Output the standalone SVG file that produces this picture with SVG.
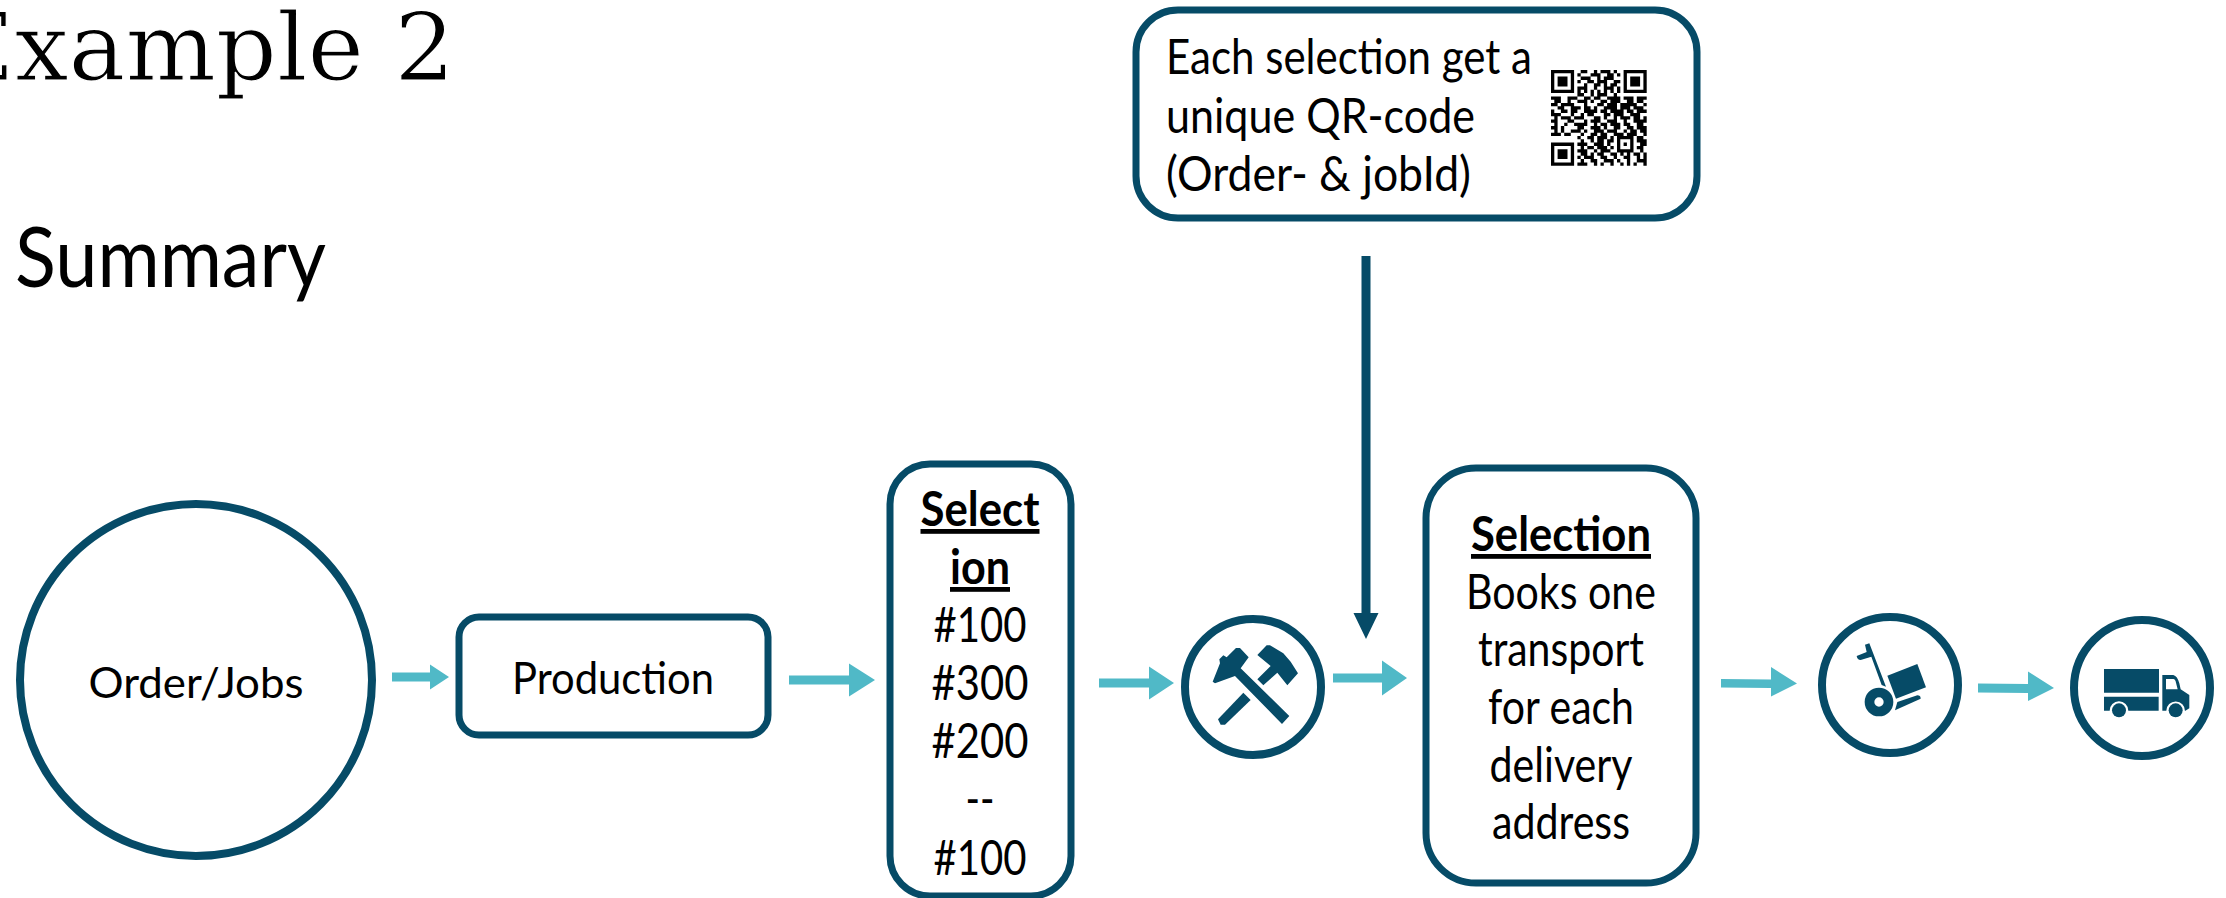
<svg xmlns="http://www.w3.org/2000/svg" width="2226" height="898" viewBox="0 0 2226 898">
<style>
text{font-family:"Lato","Open Sans","Liberation Sans",sans-serif;fill:#000;font-size:48px;font-weight:400}
.m{text-anchor:middle}
.b{font-weight:700;text-decoration:underline}
.n{fill:#fff;stroke:#064b67;stroke-width:7}
.c{fill:#fff;stroke:#064b67;stroke-width:8}
.i{fill:#064b67}
.a{fill:#50b9c7}
.d{fill:#064b67}
</style>
<rect width="2226" height="898" fill="#fff"/>
<text x="-55" y="80" style="font-family:'DejaVu Serif','Liberation Serif',serif;font-size:94px;stroke:#fff;stroke-width:1.200;paint-order:fill" textLength="510" lengthAdjust="spacingAndGlyphs">Example 2</text>
<text x="15" y="287" style="font-size:84px" textLength="311" lengthAdjust="spacingAndGlyphs">Summary</text>
<g id="connectors">
<path class="a" d="M392 672.500h38v-8l19 12.500-19 12.500v-8h-38z"/>
<path class="a" d="M789 675.500h60v-12l26 16.500-26 16.500v-12h-60z"/>
<path class="a" d="M1099 678.500h50v-12l25 16.500-25 16.500v-12h-50z"/>
<path class="a" d="M1333 673.500h49v-13l25 17.500-25 17.500v-13h-49z"/>
<path class="a" d="M1721 679l50 .5v-8.500 -4l26 16.500-26 13v-4-4.500l-50-.5z"/>
<path class="a" d="M1978 683.500l50 .5v-12.500l26 16.500-26 13v-8l-50-.5z"/>
<path class="d" d="M1361.500 256h9v357h8l-12.500 26-12.500-26h8z"/>
</g>
<g id="order"><circle class="c" cx="196" cy="680" r="176"/><text class="m" x="196" y="698" style="font-size:43px" textLength="215" lengthAdjust="spacingAndGlyphs">Order/Jobs</text></g>
<g id="production"><rect class="n" x="459" y="617" width="309" height="118" rx="20"/><text class="m" x="613" y="694" style="font-size:45px" textLength="202" lengthAdjust="spacingAndGlyphs">Production</text></g>
<g id="selection-list"><rect class="n" x="890" y="464" width="181" height="432" rx="40"/>
<text class="m b" x="980" y="526" textLength="119" lengthAdjust="spacingAndGlyphs">Select</text><text class="m b" x="980" y="584" textLength="60" lengthAdjust="spacingAndGlyphs">ion</text>
<text class="m" x="980" y="642" textLength="93" lengthAdjust="spacingAndGlyphs">#100</text><text class="m" x="980" y="700" textLength="97" lengthAdjust="spacingAndGlyphs">#300</text><text class="m" x="980" y="758" textLength="97" lengthAdjust="spacingAndGlyphs">#200</text><text class="m" x="980" y="816" textLength="29" lengthAdjust="spacingAndGlyphs">--</text><text class="m" x="980" y="875" textLength="93" lengthAdjust="spacingAndGlyphs">#100</text></g>
<g id="hammers"><circle class="c" cx="1253" cy="687" r="68"/>
<g transform="translate(1200 640) scale(.3333)"><path class="i" d="M38 125L60 70 58 58 70 46 80 52 108 24H120L146 52 122 85 268 228 246 252 105 108 45 130Z"/>
<path class="i" d="M172 45L200 16H210L250 40 272 65 294 100 262 136 232 98 190 136 172 118 212 78Z"/>
<path class="i" d="M130 158L152 180 75 254H62L54 238Z"/></g></g>
<g id="selection-books"><rect class="n" x="1426" y="468" width="270" height="415" rx="50"/>
<text class="m b" x="1561" y="551" textLength="180" lengthAdjust="spacingAndGlyphs">Selection</text><text class="m" x="1561" y="609" textLength="190" lengthAdjust="spacingAndGlyphs">Books one</text><text class="m" x="1561" y="666" textLength="166" lengthAdjust="spacingAndGlyphs">transport</text><text class="m" x="1561" y="724" textLength="146" lengthAdjust="spacingAndGlyphs">for each</text><text class="m" x="1561" y="782" textLength="143" lengthAdjust="spacingAndGlyphs">delivery</text><text class="m" x="1561" y="839" textLength="138" lengthAdjust="spacingAndGlyphs">address</text></g>
<g id="qr-note"><rect class="n" x="1136" y="10" width="561" height="208" rx="42"/>
<text x="1166" y="74" textLength="366" lengthAdjust="spacingAndGlyphs">Each selection get a</text><text x="1166" y="133" textLength="309" lengthAdjust="spacingAndGlyphs">unique QR-code</text><text x="1166" y="191" textLength="305" lengthAdjust="spacingAndGlyphs">(Order- &amp; jobId)</text>
<g transform="translate(1551 70) scale(3.3)"><path fill="none" stroke="#000" stroke-width="1" d="M0 .5h7m2 0h2m2 0h1m1 0h3m1 0h1m2 0h7M0 1.500h1m5 0h1m1 0h1m3 0h3m2 0h2m1 0h1m1 0h1m5 0h1M0 2.500h1m1 0h3m1 0h1m2 0h3m2 0h1m1 0h3m3 0h1m1 0h3m1 0h1M0 3.500h1m1 0h3m1 0h1m1 0h1m2 0h2m1 0h3m2 0h2m1 0h1m1 0h3m1 0h1M0 4.500h1m1 0h3m1 0h1m3 0h1m2 0h2m1 0h1m1 0h2m2 0h1m1 0h3m1 0h1M0 5.500h1m5 0h1m1 0h3m2 0h1m2 0h3m1 0h1m1 0h1m5 0h1M0 6.500h7m1 0h1m1 0h1m1 0h1m1 0h1m1 0h1m1 0h1m1 0h1m1 0h7M8 7.500h2m2 0h1m1 0h3m2 0h1M0 8.500h3m2 0h3m2 0h2m1 0h2m2 0h4m1 0h3m1 0h3M1 9.500h2m2 0h1m2 0h3m1 0h1m2 0h2m1 0h3m2 0h2m1 0h2M0 10.500h2m1 0h4m3 0h1m3 0h2m1 0h3m1 0h5m2 0h1M2 11.500h2m2 0h3m1 0h2m1 0h1m2 0h4m1 0h3m1 0h3M0 12.500h1m2 0h2m1 0h2m2 0h4m1 0h2m1 0h4m1 0h2m1 0h3M0 13.500h3m3 0h1m2 0h1m1 0h2m3 0h2m1 0h3m2 0h3M1 14.500h1m1 0h3m1 0h3m3 0h2m1 0h1m2 0h1m1 0h3m1 0h2m1 0h1M0 15.500h2m3 0h2m3 0h1m1 0h3m2 0h3m2 0h1m2 0h4M1 16.500h1m2 0h1m2 0h4m2 0h1m1 0h2m1 0h3m1 0h2m2 0h2M0 17.500h2m1 0h1m4 0h2m2 0h3m1 0h1m2 0h2m2 0h2m1 0h3M1 18.500h1m1 0h1m2 0h3m1 0h1m2 0h3m1 0h3m2 0h1m1 0h2m1 0h2M0 19.500h3m1 0h2m3 0h1m2 0h2m1 0h2m2 0h3m1 0h3m2 0h1M8 20.500h1m2 0h2m1 0h3m1 0h1m1 0h5m1 0h2M9 21.500h1m2 0h1m1 0h2m1 0h2m1 0h1m3 0h1m1 0h3M0 22.500h7m1 0h3m2 0h3m1 0h1m2 0h1m1 0h1m1 0h1m2 0h2M0 23.500h1m5 0h1m2 0h1m1 0h2m1 0h3m1 0h1m1 0h1m3 0h1m1 0h2M0 24.500h1m1 0h3m1 0h1m1 0h3m2 0h1m1 0h3m2 0h5m2 0h1M0 25.500h1m1 0h3m1 0h1m2 0h2m1 0h1m1 0h2m2 0h2m1 0h1m1 0h1m1 0h2m1 0h1M0 26.500h1m1 0h3m1 0h1m1 0h1m1 0h3m2 0h2m2 0h1m2 0h2m2 0h1m1 0h1M0 27.500h1m5 0h1m2 0h1m2 0h2m2 0h3m1 0h1m2 0h1m2 0h3M0 28.500h7m1 0h3m2 0h1m1 0h1m2 0h1m2 0h1m1 0h1m1 0h1m2 0h1"/></g></g>
<g id="trolley"><circle class="c" cx="1890" cy="685" r="68"/>
<g transform="translate(1840 630) scale(.3333)"><path class="i" d="M75 44L88 40 138 170 125 165 94 80 62 90Q52 90 50 78L80 66Z"/><path class="i" d="M142 137L232 102 258 172 168 206Z"/><path class="i" fill-rule="evenodd" d="M74 216a43 43 0 1 0 86 0a43 43 0 1 0-86 0zM103 216a14 14 0 1 0 28 0a14 14 0 1 0-28 0z"/><path class="i" d="M172 216L232 196Q242 196 242 206L165 241Z"/></g></g>
<g id="truck"><circle class="c" cx="2142" cy="688" r="68"/>
<g transform="translate(2090 650) scale(.3333)"><path class="i" d="M42 57H207V128H42Z"/><path class="i" d="M42 140H206V182H115A28 28 0 0 0 59 182H42Z"/><circle class="i" cx="87" cy="181" r="21"/>
<path class="i" fill-rule="evenodd" d="M217 75H250Q262 78 268 100L272 118 298 135V175L285 183A28 28 0 0 0 229 182H217ZM228 87V118H263L258 98Q256 87 250 87Z"/><circle class="i" cx="257" cy="181" r="21"/></g></g>
</svg>
